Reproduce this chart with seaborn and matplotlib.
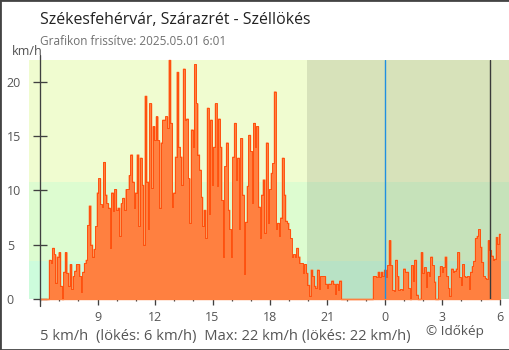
import matplotlib
matplotlib.use("Agg")
import matplotlib.pyplot as plt
import matplotlib.dates as mdates
from matplotlib.patches import Rectangle
import pandas as pd
import seaborn as sns

# Wind gusts (km/h), one reading every 5 minutes starting at 06:00
gust_kmh = [
    0, 0, 0, 0, 0, 0,
    3.6, 3.3, 4.7, 4.1, 1.5, 3.9,
    4.3, 1.2, 0, 2.5, 4.3, 2.4,
    1.2, 3.2, 0.9, 2.1, 2.6, 3.2,
    3.2, 2.1, 0.6, 2.5, 3.3, 3.6,
    6.8, 8.6, 5.0, 3.9, 4.6, 6.7,
    9.8, 11.1, 8.7, 8.5, 12.6, 9.6,
    8.8, 8.4, 4.7, 9.8, 8.1, 10.1,
    8.2, 8.4, 5.8, 8.8, 9.3, 8.2,
    10.1, 10.1, 11.4, 13.3, 10.8, 8.4,
    9.8, 13.3, 6.7, 13.0, 10.5, 5.0,
    18.7, 10.8, 6.4, 18.0, 10.2, 15.9,
    14.6, 16.8, 14.6, 8.4, 14.4, 16.5,
    16.5, 16.8, 15.7, 22.0, 16.2, 8.5,
    9.8, 13.1, 20.9, 14.0, 13.1, 10.5,
    21.2, 16.5, 16.6, 11.1, 7.0, 15.6,
    14.0, 21.6, 18.0, 13.3, 11.9, 9.4,
    6.7, 8.2, 5.6, 17.6, 7.8, 16.5,
    10.5, 14.0, 18.0, 10.4, 16.6, 14.0,
    9.1, 3.9, 12.2, 14.4, 8.2, 6.4,
    3.9, 13.1, 16.2, 11.0, 13.0, 6.4,
    14.8, 9.6, 2.3, 7.1, 10.4, 15.1,
    13.6, 8.8, 16.2, 14.0, 15.9, 8.5,
    5.6, 9.6, 11.0, 6.1, 14.4, 7.0,
    10.1, 11.6, 12.5, 19.1, 6.4, 7.0,
    5.8, 7.5, 13.0, 9.6, 7.2, 7.0,
    6.4, 5.6, 3.9, 4.1, 3.9, 4.7,
    3.9, 3.3, 3.3, 2.4, 3.2, 2.4,
    1.3, 0.3, 2.7, 2.1, 1.2, 1.0,
    2.7, 0.9, 2.1, 2.1, 2.1, 1.4,
    1.0, 1.4, 1.4, 1.7, 1.4, 0.5,
    1.4, 0.8, 1.7, 0, 0, 0,
    0, 0, 0, 0, 0, 0, 0, 0, 0, 0, 0, 0, 0, 0, 0, 0, 0,
    2.1, 2.1, 2.0, 2.5, 2.0, 2.5,
    2.1, 2.7, 2.0, 3.1, 5.4, 3.1,
    0.8, 0.7, 3.6, 2.1, 0.8, 0.9,
    0.8, 2.8, 2.5, 2.5, 1.0, 0,
    3.1, 1.7, 3.6, 0.4, 0, 0,
    4.3, 2.4, 2.9, 1.1, 2.5, 2.1,
    3.9, 3.1, 1.6, 0, 0, 2.1,
    3.0, 2.5, 2.9, 3.9, 2.1, 1.0,
    0.3, 2.8, 2.5, 2.6, 2.8, 4.3,
    2.0, 1.3, 3.2, 2.1, 2.0, 2.1,
    0.9, 2.5, 3.0, 3.5, 5.6, 5.8,
    6.4, 4.8, 3.4, 2.1, 1.9, 1.8,
    5.4, 4.5, 4.0, 3.6, 3.7, 5.7,
    5.1, 6.0,
]
series_start = "2025-04-30 06:00"
sample_step = "5min"
view_start = "2025-04-30 05:25"
view_end = "2025-05-01 06:29"
sunset = "2025-04-30 19:56"
midnight = "2025-05-01 00:00"
sunrise = "2025-05-01 05:30"
first_hour_tick = "2025-04-30 09:00"
last_hour_tick = "2025-05-01 06:00"

current_wind = 5
max_wind = 22
y_ticks = [0, 5, 10, 15, 20]
y_max = 22

# Wind strength bands behind the chart
band_edges = [0, 3.5, 10.8, 22]
band_colors = ["#cdfcdc", "#ddfcd0", "#f0fcd0"]

title = "Székesfehérvár, Szárazrét - Széllökés"
subtitle = "Grafikon frissítve: 2025.05.01 6:01"
unit = "km/h"
credit = "© Időkép"

sns.set_theme(style="white")
plt.rcParams["font.family"] = ["Open Sans", "DejaVu Sans"]

W, H = 510, 350
fig = plt.figure(figsize=(W / 100, H / 100), dpi=100)
ax = fig.add_axes([29 / W, 51 / H, 480 / W, 239 / H])

times = pd.date_range(series_start, periods=len(gust_kmh), freq=sample_step)
df = pd.DataFrame({"time": times, "gust": gust_kmh})

for lo, hi, col in zip(band_edges[:-1], band_edges[1:], band_colors):
    ax.axhspan(lo, hi, color=col, lw=0, zorder=0)
ax.axvspan(pd.Timestamp(sunset), pd.Timestamp(view_end), color="black",
           alpha=0.1, lw=0, zorder=0.3)

ax.fill_between(df["time"], df["gust"], step="mid", color="#ff8040",
                lw=1.0, edgecolor="#ff8040", zorder=1, clip_on=False)
sns.lineplot(data=df, x="time", y="gust", ax=ax, color="#ff4300",
             lw=0.55, drawstyle="steps-mid", zorder=2)

ax.axvline(pd.Timestamp(midnight), color="#2090e0", lw=1.0, zorder=3)
ax.axvline(pd.Timestamp(sunrise), color="#3a3a3a", lw=1.0, zorder=3)

ax.set_xlim(pd.Timestamp(view_start), pd.Timestamp(view_end))
ax.set_ylim(0, y_max)
ax.set_xlabel("")
ax.set_ylabel("")

for side in ["top", "right", "bottom", "left"]:
    ax.spines[side].set_visible(False)
ax.spines["left"].set_position(("data", mdates.date2num(times[0])))
ax.axvline(times[0], ymin=-0.03, ymax=1.021, color="#404040", lw=0.95,
           clip_on=False, zorder=4)

ax.set_yticks(y_ticks)
ax.tick_params(axis="y", which="major", left=True, direction="inout",
               length=9.4, width=0.95, color="#404040", labelsize=9,
               labelcolor="#555555", pad=19.4)
for lbl in ax.get_yticklabels():
    lbl.set_horizontalalignment("left")

hour_marks = pd.date_range(first_hour_tick, last_hour_tick, freq="3h")
ax.set_xticks(hour_marks)
ax.xaxis.set_minor_locator(mdates.HourLocator())
ax.xaxis.set_major_formatter(
    plt.FuncFormatter(lambda v, p: str(mdates.num2date(v).hour)))
ax.tick_params(axis="x", which="major", bottom=True, direction="out",
               length=4.3, width=0.95, color="#404040", labelsize=9,
               labelcolor="#555555", pad=4)
ax.tick_params(axis="x", which="minor", bottom=True, direction="out",
               length=1.2, width=0.9, color="#404040")
ax.grid(False)

fig.text(40 / W, 1 - 24 / H, title, fontsize=11.4, color="#222222",
         ha="left", va="baseline")
fig.text(40 / W, 1 - 45 / H, subtitle, fontsize=8.5, color="#707070",
         ha="left", va="baseline")
fig.text(12 / W, 1 - 55 / H, unit, fontsize=9, color="#505050",
         ha="left", va="baseline")

footer = (f"{current_wind} km/h  (lökés: {gust_kmh[-1]:.0f} km/h)  "
          f"Max: {max_wind} km/h (lökés: {max(gust_kmh):.0f} km/h)")
fig.text(40 / W, 1 - 340 / H, footer, fontsize=10.6, color="#555555",
         ha="left", va="baseline")
fig.text(426 / W, 1 - 335 / H, credit, fontsize=9.7, color="#555555",
         ha="left", va="baseline")

fig.patches.append(Rectangle((0, 0), 1, 1, transform=fig.transFigure,
                             fill=False, ec="#444444", lw=2.0))

fig.savefig("out.png", dpi=100)
